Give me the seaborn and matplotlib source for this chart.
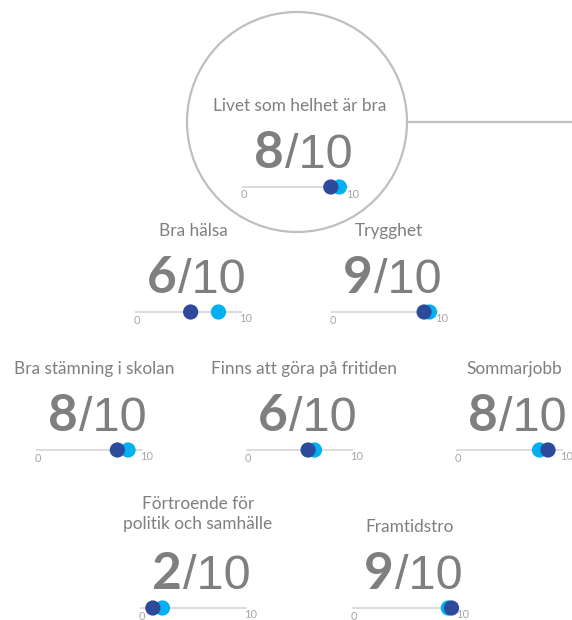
import matplotlib
matplotlib.use("Agg")
import matplotlib.pyplot as plt
import pandas as pd
import seaborn as sns

# indicator titles, displayed score and the two dot series (0-10 scale)
titles = ["Livet som helhet är bra", "Bra hälsa", "Trygghet",
          "Bra stämning i skolan", "Finns att göra på fritiden", "Sommarjobb",
          "Förtroende för\npolitik och samhälle", "Framtidstro"]
scores = [8, 6, 9, 8, 6, 8, 2, 9]
light_vals = [9.1, 7.8, 9.2, 8.6, 6.4, 7.8, 2.1, 9.0]
dark_vals = [8.3, 5.2, 8.7, 7.6, 5.8, 8.6, 1.2, 9.3]
series_names = ["Jämförelse", "Resultat"]

# layout in pixels: text centre x and slider y
centers_x = [300, 193, 389, 94, 304, 514, 198, 410]
slider_y = [187, 312, 312, 450, 450, 450, 608, 608]

W, H = 572, 620
GRAY = "#7f7f7f"
LIGHT = "#00b0f0"
DARK = "#2e4a9b"
EDGE = "#bfbfbf"

sns.set_theme(style="white")
plt.rcParams["font.family"] = ["Lato", "DejaVu Sans"]

fig = plt.figure(figsize=(W / 100, H / 100), dpi=100)
bg = fig.add_axes([0, 0, 1, 1])
bg.set_xlim(0, W)
bg.set_ylim(H, 0)
bg.axis("off")

# big circle round the first indicator and the connector line
circle = plt.Circle((297, 122), 110, fill=False, edgecolor=EDGE, lw=1.6)
bg.add_patch(circle)
bg.plot([407, W], [122, 122], color=EDGE, lw=1.6, solid_capstyle="butt")

line_len = 107
for i, title in enumerate(titles):
    cx, ly = centers_x[i], slider_y[i]
    x0 = cx - 58
    x1 = x0 + line_len

    ty = ly - 81 if "\n" not in title else ly - 94
    bg.text(cx, ty, title, ha="center", va="center", color=GRAY,
            fontsize=12.4, linespacing=1.3)

    # bold score followed by a slimmer "/10"
    bg.text(cx - 16, ly - 19, str(scores[i]), ha="right", va="baseline",
            color=GRAY, fontsize=37, fontweight="bold")
    bg.text(cx - 15, ly - 19, "/10", ha="left", va="baseline",
            color=GRAY, fontsize=35, family=["Liberation Sans", "DejaVu Sans"])

    bg.text(x0 + 2, ly + 8, "0", ha="center", va="center", color="#a6a6a6",
            fontsize=8)
    bg.text(x1 + 4, ly + 7, "10", ha="center", va="center", color="#a6a6a6",
            fontsize=8)

    # slider axes on a 0-10 scale
    h = 20
    ax = fig.add_axes([x0 / W, 1 - (ly + h / 2) / H, line_len / W, h / H])
    ax.axhline(0, color="#d9d9d9", lw=1.3, zorder=0)
    df = pd.DataFrame({
        "value": [light_vals[i], dark_vals[i]],
        "y": [0, 0],
        "serie": series_names,
    })
    sns.scatterplot(data=df, x="value", y="y", hue="serie", ax=ax,
                    palette={series_names[0]: LIGHT, series_names[1]: DARK},
                    s=120, linewidth=0, legend=False, clip_on=False, zorder=3)
    ax.set_xlim(0, 10)
    ax.set_ylim(-1, 1)
    ax.axis("off")

fig.savefig("out.png", dpi=100, facecolor="white")
